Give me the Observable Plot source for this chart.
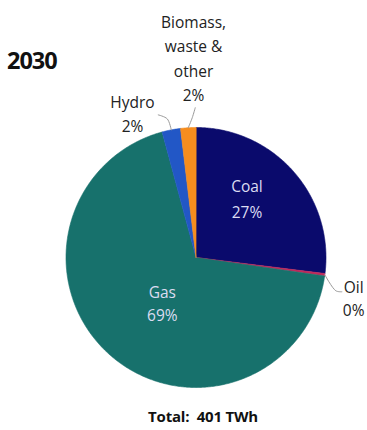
<!DOCTYPE html>
<html><head><meta charset="utf-8">
<script src="https://cdn.jsdelivr.net/npm/d3@7"></script>
<script src="https://cdn.jsdelivr.net/npm/@observablehq/plot@0.6"></script>
<style>
html,body{margin:0;padding:0;background:#fff;}
#wrap{position:relative;width:367px;height:430px;font-family:"Open Sans",sans-serif;overflow:hidden;}
#title{position:absolute;left:7px;top:44px;font-weight:700;font-size:23.5px;color:#111;letter-spacing:-1px;}
#total{position:absolute;left:0;width:406px;text-align:center;top:406px;font-weight:700;font-size:15px;color:#111;white-space:pre;letter-spacing:-0.2px;}
</style></head>
<body>
<div id="wrap"><div id="chart"></div><div id="title">2030</div><div id="total"></div></div>
<script>
// ---- data ----
const title = "2030";
const categories = ["Coal", "Oil", "Gas", "Hydro", "Biomass, waste & other"];
const shares = [27, 0.3, 68.6, 2.3, 1.9];
const displayNames = ["Coal", "Oil", "Gas", "Hydro", "Biomass,\nwaste &\nother"];
const percentLabels = ["27%", "0%", "69%", "2%", "2%"];
const totalTWh = 401;
const colors = ["#0a0a6c", "#c0285a", "#17716c", "#2257c6", "#f68d1e"];

// ---- layout ----
const W = 367, H = 430, R = 130, CX = 195.5, CY = 257;
const labelPos = { // polar: radius (units of R), angle (deg clockwise from 12 o'clock)
  "Coal": {r: 0.61, a: 40, inside: true, lh: 1.65},
  "Gas": {r: 0.43, a: 217, inside: true, lh: 1.45},
  "Hydro": {r: 1.22, a: -23.6, inside: false, lh: 1.6},
  "Oil": {r: 1.25, a: 104, inside: false, lh: 1.5},
  "Biomass, waste & other": {r: 1.545, a: -0.7, inside: false, lh: 1.58}
};
const leaderBends = { // pixel offsets from slice edge point
  "Hydro": [[-4, -11], [-13, -15]],
  "Biomass, waste & other": [[4, -10], [7, -20]],
  "Oil": [[11, 16], [17, 17]]
};

const rows = categories.map((c, i) => ({name: c, share: shares[i], label: displayNames[i], pct: percentLabels[i], color: colors[i]}));
const arcs = d3.pie().sort(null).value(d => d.share)(rows);

const pts = [];
for (const a of arcs) {
  pts.push({name: a.data.name, x: 0, y: 0});
  const n = Math.max(2, Math.ceil((a.endAngle - a.startAngle) / 0.01));
  for (let k = 0; k <= n; k++) {
    const t = a.startAngle + (a.endAngle - a.startAngle) * k / n;
    pts.push({name: a.data.name, x: Math.sin(t), y: Math.cos(t)});
  }
}

const labels = arcs.map(a => {
  const p = labelPos[a.data.name];
  const t = p.a * Math.PI / 180;
  return {name: a.data.name, x: p.r * Math.sin(t), y: p.r * Math.cos(t), text: a.data.label + "\n" + a.data.pct, inside: p.inside, lh: p.lh};
});

const leaders = [];
for (const a of arcs) {
  const b = leaderBends[a.data.name];
  if (!b) continue;
  const m = (a.startAngle + a.endAngle) / 2;
  const ex = Math.sin(m), ey = Math.cos(m);
  leaders.push({name: a.data.name, x: ex, y: ey});
  for (const [dx, dy] of b) leaders.push({name: a.data.name, x: ex + dx / R, y: ey - dy / R});
}

const textMarks = labels.map(l => Plot.text([l], {
  x: "x", y: "y", text: "text", lineAnchor: "middle", textAnchor: "middle",
  lineHeight: l.lh, fontSize: 15.5,
  fill: l.inside ? "#dcdcf2" : "#222"
}));

const chart = Plot.plot({
  width: W, height: H, margin: 0,
  style: {fontFamily: "Open Sans, sans-serif", background: "transparent"},
  x: {domain: [-CX / R, (W - CX) / R], range: [0, W], axis: null},
  y: {domain: [-(H - CY) / R, CY / R], range: [H, 0], axis: null},
  color: {domain: categories, range: colors},
  marks: [
    Plot.line(pts, {x: "x", y: "y", z: "name", fill: "name", stroke: "name", strokeWidth: 0.6, curve: "linear-closed"}),
    Plot.line(leaders, {x: "x", y: "y", z: "name", stroke: "#9a9a9a", strokeWidth: 1, curve: "catmull-rom"}),
    ...textMarks
  ]
});
document.getElementById("chart").appendChild(chart);
document.getElementById("title").textContent = title;
document.getElementById("total").textContent = "Total:  " + totalTWh + " TWh";
</script>
</body></html>
